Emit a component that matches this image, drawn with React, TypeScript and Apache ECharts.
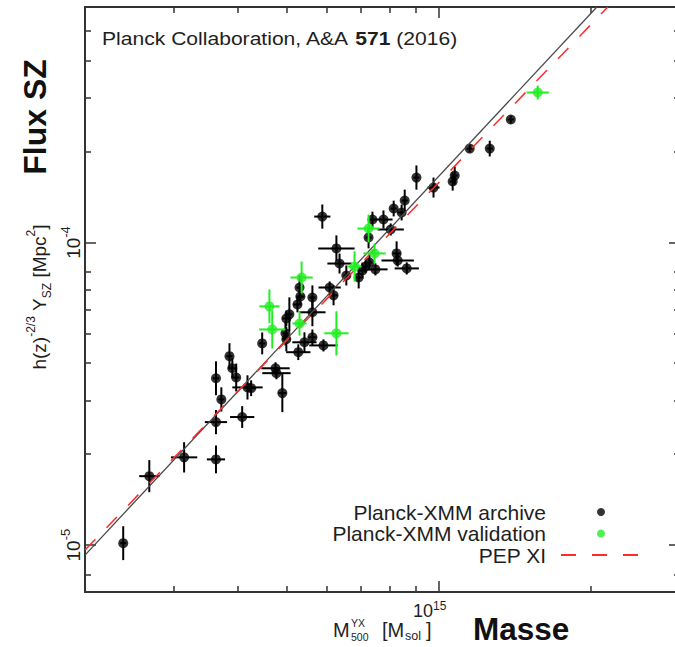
import React, { useEffect, useRef } from 'react';
import * as echarts from 'echarts';

const FONT = "'Liberation Sans', Arial, Helvetica, sans-serif";
const TXT = '#1e1e1e';

// Units: mass in 1e14 M_sol, Y in 1e-5 Mpc^2; errors are log10 half-widths (dex)
const X_UNIT = 1e14;
const Y_UNIT = 1e-5;

const archiveMass = [2.38, 2.68, 3.14, 3.63, 3.63, 4.09, 3.72, 3.63, 3.86, 3.91, 3.98, 4.19, 4.26, 4.76, 4.78, 4.91, 4.48, 4.98, 5.0, 5.28, 5.43, 5.63, 5.92, 5.07, 5.0, 5.26, 5.31, 5.33, 5.63, 5.63, 6.09, 6.2, 6.37, 6.28, 5.89, 6.57, 6.95, 7.07, 7.17, 7.3, 7.5, 7.27, 7.4, 7.78, 8.04, 8.15, 8.57, 8.45, 8.26, 8.3, 8.65, 9.04, 9.77, 10.76, 10.66, 11.52, 12.62, 13.89];
const archiveY = [1.015, 1.69, 1.95, 1.92, 2.55, 2.65, 3.03, 3.56, 4.21, 3.84, 3.58, 3.32, 3.3, 3.84, 3.7, 3.18, 4.64, 5.01, 4.79, 4.34, 4.68, 4.86, 4.57, 5.79, 5.61, 6.24, 7.1, 6.63, 6.58, 5.88, 7.1, 6.69, 8.52, 9.56, 12.18, 7.78, 7.66, 8.08, 8.33, 8.59, 8.15, 10.39, 11.91, 11.91, 11.04, 12.95, 13.76, 12.56, 9.2, 8.72, 8.21, 16.39, 15.19, 16.64, 15.9, 20.43, 20.43, 25.5];
const archiveMassErr = [0.006, 0.02, 0.026, 0.018, 0.022, 0.024, 0.006, 0.006, 0.006, 0.008, 0.006, 0.03, 0.01, 0.028, 0.028, 0.008, 0.006, 0.006, 0.008, 0.024, 0.024, 0.008, 0.028, 0.006, 0.008, 0.008, 0.006, 0.008, 0.006, 0.026, 0.022, 0.008, 0.024, 0.036, 0.016, 0.006, 0.006, 0.008, 0.006, 0.006, 0.024, 0.006, 0.006, 0.018, 0.026, 0.006, 0.006, 0.008, 0.008, 0.032, 0.024, 0.006, 0.012, 0.006, 0.006, 0.006, 0.006, 0.006];
const archiveYErr = [0.056, 0.053, 0.05, 0.046, 0.04, 0.036, 0.04, 0.056, 0.043, 0.033, 0.046, 0.04, 0.026, 0.02, 0.02, 0.063, 0.036, 0.04, 0.04, 0.026, 0.033, 0.026, 0.02, 0.056, 0.026, 0.026, 0.04, 0.026, 0.04, 0.046, 0.02, 0.033, 0.033, 0.043, 0.04, 0.033, 0.036, 0.026, 0.02, 0.026, 0.02, 0.036, 0.026, 0.03, 0.02, 0.026, 0.036, 0.026, 0.04, 0.02, 0.02, 0.04, 0.033, 0.03, 0.03, 0.013, 0.026, 0.013];

const validationMass = [15.7, 5.36, 4.63, 4.69, 5.31, 6.28, 7.27, 7.47, 6.82];
const validationY = [31.3, 7.66, 6.15, 5.16, 5.4, 5.01, 11.12, 9.2, 8.33];
const validationMassErr = [0.022, 0.022, 0.02, 0.026, 0.014, 0.024, 0.022, 0.022, 0.014];
const validationYErr = [0.023, 0.053, 0.056, 0.063, 0.04, 0.073, 0.046, 0.033, 0.05];

const fitMass = [2.0, 20.55];
const fitY = [0.927, 60];
const pepMass = [2.0, 21.6];
const pepY = [0.963, 60];

const xMajorTicks = [1e15];
const xMinorTicks = [3e14, 4e14, 5e14, 6e14, 7e14, 8e14, 9e14, 2e15];
const yMajorTicks = [1e-5, 1e-4];
const yMinorTicks = [8e-6, 2e-5, 3e-5, 4e-5, 5e-5, 6e-5, 7e-5, 8e-5, 2e-4, 3e-4, 4e-4, 5e-4];

const X_MIN = 2e14, X_MAX = 3e15, Y_MIN = 7e-6, Y_MAX = 6e-4;

const ARCHIVE_COLOR = '#000000';
const VALID_COLOR = '#22ee22';
const PEP_COLOR = '#ff2a2a';

function pts(m: number[], y: number[], em: number[], ey: number[]) {
  return m.map((v, i) => [v * X_UNIT, y[i] * Y_UNIT, em[i], ey[i]]);
}

function errorBars(name: string, data: number[][], color: string, z: number) {
  return {
    type: 'custom',
    name,
    data,
    z,
    silent: true,
    encode: { x: 0, y: 1 },
    renderItem: (params: any, api: any) => {
      const x = api.value(0), y = api.value(1), ex = api.value(2), ey = api.value(3);
      const fx = Math.pow(10, ex), fy = Math.pow(10, ey);
      const c = api.coord([x, y]);
      const l = api.coord([x / fx, y]);
      const r = api.coord([x * fx, y]);
      const t = api.coord([x, y * fy]);
      const b = api.coord([x, y / fy]);
      const style = { stroke: color, lineWidth: 2 };
      return {
        type: 'group',
        children: [
          { type: 'line', shape: { x1: l[0], y1: c[1], x2: r[0], y2: c[1] }, style },
          { type: 'line', shape: { x1: c[0], y1: t[1], x2: c[0], y2: b[1] }, style },
        ],
      };
    },
  };
}

const frameLine = { color: '#333', width: 2 };
const tickLine = { color: '#333', width: 1.5 };

function xAxisCfg(position: string, ticks: number[], len: number, label: any) {
  return {
    type: 'log', logBase: 10, min: X_MIN, max: X_MAX, position,
    axisLine: { show: true, onZero: false, lineStyle: frameLine },
    axisTick: { show: true, inside: true, length: len, customValues: ticks, lineStyle: tickLine },
    axisLabel: label || { show: false },
    splitLine: { show: false },
    minorTick: { show: false },
    minorSplitLine: { show: false },
  };
}
function yAxisCfg(position: string, ticks: number[], len: number, label: any) {
  return {
    type: 'log', logBase: 10, min: Y_MIN, max: Y_MAX, position,
    axisLine: { show: true, onZero: false, lineStyle: frameLine },
    axisTick: { show: true, inside: true, length: len, customValues: ticks, lineStyle: tickLine },
    axisLabel: label || { show: false },
    splitLine: { show: false },
    minorTick: { show: false },
    minorSplitLine: { show: false },
  };
}

const richTick = {
  b: { fontSize: 18, lineHeight: 20, verticalAlign: 'bottom', fontFamily: FONT, color: TXT },
  s: { fontSize: 12, verticalAlign: 'top', fontFamily: FONT, color: TXT },
};

export default function App() {
  const ref = useRef<HTMLDivElement>(null);
  useEffect(() => {
    if (!ref.current) return;
    const chart = echarts.init(ref.current, null, { renderer: 'svg' });
    const archive = pts(archiveMass, archiveY, archiveMassErr, archiveYErr);
    const validation = pts(validationMass, validationY, validationMassErr, validationYErr);

    const nameText = (text: string, x: number, y: number, size: number, lh: number) => ({
      type: 'text', x, y,
      style: { text, fontSize: size, lineHeight: lh, fontFamily: FONT, fill: TXT, align: 'left', verticalAlign: 'middle' },
    });

    const option: any = {
      animation: false,
      backgroundColor: '#ffffff',
      grid: { left: 85, top: 7, width: 595, height: 585, containLabel: false, outerBoundsMode: 'none' },
      xAxis: [
        xAxisCfg('bottom', xMajorTicks, 11, {
          show: true,
          customValues: xMajorTicks,
          margin: 8,
          padding: [0, 18, 0, 0],
          formatter: (v: number) => `{b|10}{s|${Math.round(Math.log10(v))}}`,
          rich: richTick,
        }),
        xAxisCfg('bottom', xMinorTicks, 6, null),
        xAxisCfg('top', xMajorTicks, 11, null),
        xAxisCfg('top', xMinorTicks, 6, null),
      ],
      yAxis: [
        yAxisCfg('left', yMajorTicks, 11, {
          show: true,
          customValues: yMajorTicks,
          rotate: 90,
          margin: 2,
          formatter: (v: number) => `{b|10}{s|${Math.round(Math.log10(v))}}`,
          rich: {
            b: { fontSize: 19, lineHeight: 24, verticalAlign: 'bottom', fontFamily: FONT, color: TXT },
            s: { fontSize: 13, verticalAlign: 'top', fontFamily: FONT, color: TXT },
          },
        }),
        yAxisCfg('left', yMinorTicks, 6, null),
        yAxisCfg('right', yMajorTicks, 11, null),
        yAxisCfg('right', yMinorTicks, 6, null),
      ],
      legend: {
        orient: 'vertical',
        right: 33,
        top: 501.5,
        align: 'right',
        itemWidth: 100,
        itemHeight: 8,
        itemGap: 0.5,
        padding: 0,
        selectedMode: false,
        textStyle: { fontSize: 21, color: TXT, fontFamily: FONT },
        data: [
          { name: 'Planck-XMM archive', icon: 'circle' },
          { name: 'Planck-XMM validation', icon: 'circle' },
          {
            name: 'PEP XI',
            itemStyle: { opacity: 0, borderWidth: 0 },
            lineStyle: { type: [15, 16], dashOffset: 21, width: 2, color: PEP_COLOR },
          },
        ],
      },
      series: [
        errorBars('archive-errors', archive, ARCHIVE_COLOR, 2),
        {
          type: 'scatter', name: 'Planck-XMM archive', z: 3,
          data: archive.map((p) => [p[0], p[1]]),
          symbol: 'circle', symbolSize: 10,
          itemStyle: { color: ARCHIVE_COLOR },
        },
        {
          type: 'line', name: 'fit', z: 4,
          data: fitMass.map((m, i) => [m * X_UNIT, fitY[i] * Y_UNIT]),
          symbol: 'none',
          lineStyle: { color: '#4a4a4a', width: 1.3 },
        },
        {
          type: 'line', name: 'PEP XI', z: 4,
          data: pepMass.map((m, i) => [m * X_UNIT, pepY[i] * Y_UNIT]),
          symbol: 'none',
          itemStyle: { color: PEP_COLOR },
          lineStyle: { color: PEP_COLOR, width: 1.5, type: [15, 16] },
        },
        errorBars('validation-errors', validation, VALID_COLOR, 5),
        {
          type: 'scatter', name: 'Planck-XMM validation', z: 6,
          data: validation.map((p) => [p[0], p[1]]),
          symbol: 'circle', symbolSize: 10,
          itemStyle: { color: VALID_COLOR },
        },
      ],
      graphic: [
        {
          type: 'text', x: 102, y: 38, scaleX: 1.14,
          style: {
            text: '{n|Planck Collaboration, A&A }{b|571}{n| (2016)}',
            rich: {
              n: { fontSize: 18.5, fontFamily: FONT, fill: TXT },
              b: { fontSize: 18.5, fontFamily: FONT, fontWeight: 'bold', fill: TXT },
            },
            align: 'left', verticalAlign: 'middle',
          },
        },
        {
          type: 'text', x: 35, y: 117, rotation: Math.PI / 2,
          style: { text: 'Flux SZ', fontSize: 32, fontWeight: 'bold', fontFamily: FONT, fill: '#111', align: 'center', verticalAlign: 'middle' },
        },
        {
          type: 'text', x: 39, y: 297, rotation: Math.PI / 2,
          style: {
            text: '{n|h(z)}{p|-2/3}{n| Y}{d|SZ}{n| [Mpc}{p|2}{n|]}',
            rich: {
              n: { fontSize: 19, lineHeight: 28, fontFamily: FONT, fill: TXT },
              p: { fontSize: 12, verticalAlign: 'top', fontFamily: FONT, fill: TXT },
              d: { fontSize: 12, verticalAlign: 'bottom', fontFamily: FONT, fill: TXT },
            },
            align: 'center', verticalAlign: 'middle',
          },
        },
        nameText('M', 333, 630, 20, 15),
        nameText('YX', 351, 623, 10.5, 9),
        nameText('500', 351, 636.5, 10.5, 9),
        nameText('[M', 382, 630, 20, 15),
        nameText('sol', 405, 636, 12.5, 10),
        nameText(']', 426, 630, 20, 15),
        {
          type: 'text', x: 473, y: 629,
          style: { text: 'Masse', fontSize: 31.5, lineHeight: 24, fontWeight: 'bold', fontFamily: FONT, fill: '#111', align: 'left', verticalAlign: 'middle' },
        },
      ],
    };
    chart.setOption(option);
    return () => chart.dispose();
  }, []);

  return (
    <div style={{ position: 'absolute', left: 0, top: 0, width: 675, height: 647, overflow: 'hidden', background: '#fff' }}>
      <div ref={ref} style={{ width: 685, height: 647 }} />
    </div>
  );
}
